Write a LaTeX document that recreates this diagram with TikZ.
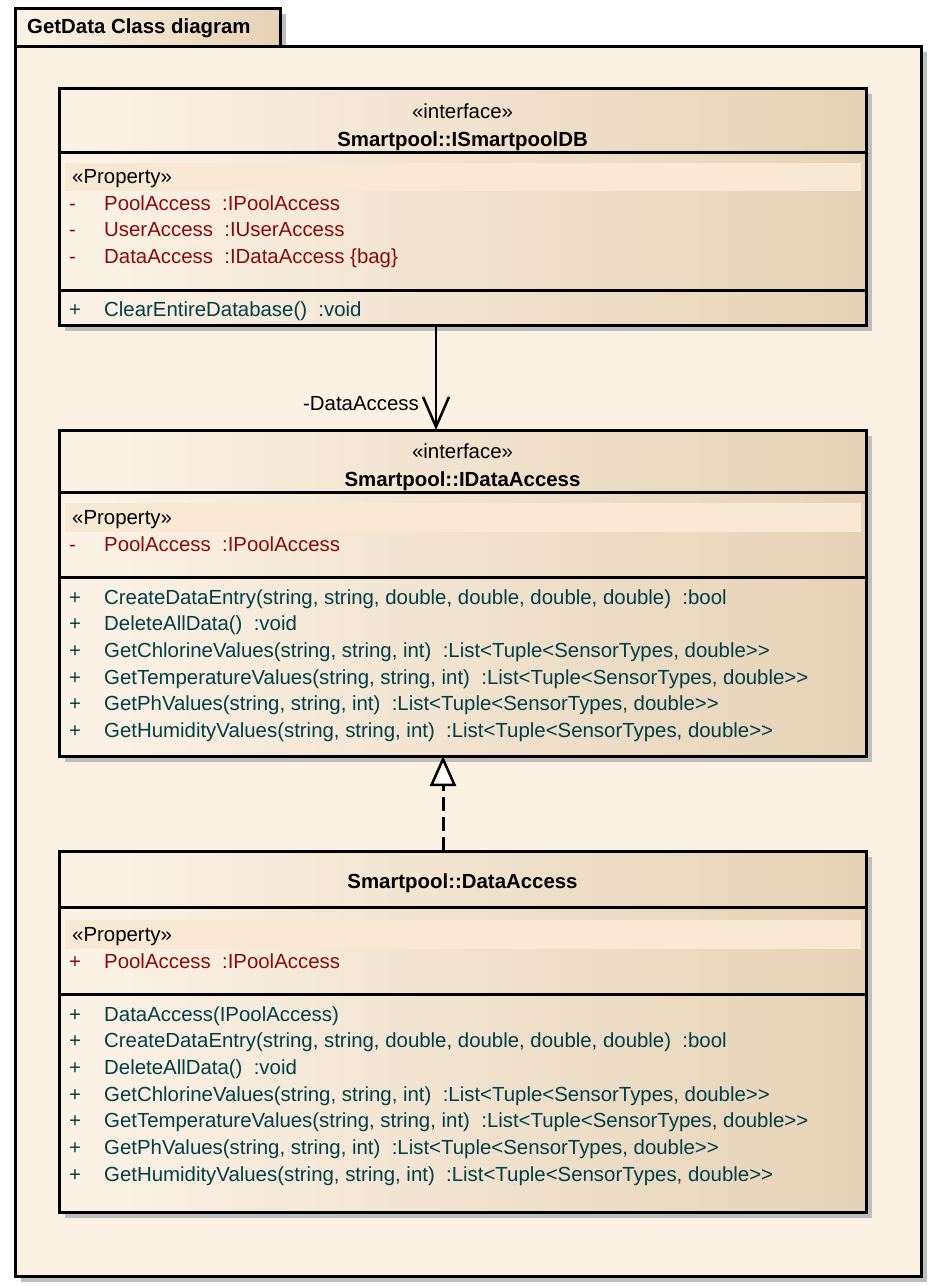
\documentclass[tikz,border=0pt]{standalone}
\usepackage{fontspec}
\setmainfont{Liberation Sans}[Ligatures=TeXOff]
\usetikzlibrary{arrows.meta,shadows}
\definecolor{framebg}{HTML}{FBF1E3}
\definecolor{boxleft}{HTML}{FCF3E7}
\definecolor{boxright}{HTML}{E6D2B6}
\definecolor{propband}{HTML}{F9E9D4}
\definecolor{attrred}{HTML}{8B0A0A}
\definecolor{opteal}{HTML}{003E48}
\definecolor{shadowgrey}{HTML}{BEBEBE}

\begin{document}
\begin{tikzpicture}[x=1pt,y=-1pt,font=\fontsize{20.4}{24}\selectfont]
    \tikzstyle{grey shadow}=[drop shadow={shadow xshift=6pt,shadow yshift=-6pt,fill=shadowgrey,opacity=1}]
    \tikzstyle{shade box}=[draw,line width=3pt,inner sep=0pt,outer sep=0pt,left color=boxleft,right color=boxright,grey shadow,anchor=north west]
    \tikzstyle{frame box}=[draw,line width=3pt,inner sep=0pt,outer sep=0pt,fill=framebg,grey shadow,anchor=north west]
    \tikzstyle{sep}=[line width=3pt]
    \tikzstyle{band}=[fill=propband]
    \tikzstyle{txt}=[inner sep=0pt,anchor=base west]
    \tikzstyle{centred}=[inner sep=0pt,anchor=base]
    \tikzstyle{attr}=[txt,text=attrred]
    \tikzstyle{oper}=[txt,text=opteal]
    \useasboundingbox[fill=white] (0,0) rectangle (931,1286);
    % package frame
    \node[shade box,minimum width=265pt,minimum height=38pt] (tab) at (15,8) {};
    \node[frame box,minimum width=906pt,minimum height=1230pt] (frame) at (15,46) {};
    \node[txt,font=\fontsize{20.4}{24}\selectfont\bfseries] (title) at (27,33.3) {GetData Class diagram};
    % Smartpool::ISmartpoolDB
    \node[shade box,minimum width=807pt,minimum height=237pt] (isdb) at (59,88) {};
    \draw[sep] (isdb.west |- 0,152) -- (isdb.east |- 0,152);
    \draw[sep] (isdb.west |- 0,290) -- (isdb.east |- 0,290);
    \fill[band] (65,163) rectangle (861,191);
    \node[centred] (isdb-st) at (isdb.north |- 0,118) {«interface»};
    \node[centred,font=\fontsize{20.4}{24}\selectfont\bfseries] (isdb-name) at (isdb.north |- 0,146.5) {Smartpool::ISmartpoolDB};
    \node[txt] (isdb-prop) at (72,183) {«Property»};
    \foreach \n/\t [count=\i from 0] in {PoolAccess/IPoolAccess,UserAccess/IUserAccess,DataAccess/{IDataAccess \{bag\}}} {
      \node[attr] (isdb-v\i) at (69,210+26.65*\i) {-};
      \node[attr] (isdb-a\i) at (104,210+26.65*\i) {\n~~:\t};
    }
    \node[oper] (isdb-s0) at (69,316.7) {+};
    \node[oper] (isdb-o0) at (104,316.7) {ClearEntireDatabase()~~:void};
    % Smartpool::IDataAccess
    \node[shade box,minimum width=807pt,minimum height=326pt] (ida) at (59,430) {};
    \draw[sep] (ida.west |- 0,492) -- (ida.east |- 0,492);
    \draw[sep] (ida.west |- 0,577) -- (ida.east |- 0,577);
    \fill[band] (65,503) rectangle (861,532);
    \node[centred] (ida-st) at (ida.north |- 0,458) {«interface»};
    \node[centred,font=\fontsize{20.4}{24}\selectfont\bfseries] (ida-name) at (ida.north |- 0,486.5) {Smartpool::IDataAccess};
    \node[txt] (ida-prop) at (72,524) {«Property»};
    \node[attr] (ida-v0) at (69,551) {-};
    \node[attr] (ida-a0) at (104,551) {PoolAccess~~:IPoolAccess};
    \foreach \t [count=\i from 0] in {{CreateDataEntry(string, string, double, double, double, double)~~:bool},{DeleteAllData()~~:void},{GetChlorineValues(string, string, int)~~:List<Tuple<SensorTypes, double>>},{GetTemperatureValues(string, string, int)~~:List<Tuple<SensorTypes, double>>},{GetPhValues(string, string, int)~~:List<Tuple<SensorTypes, double>>},{GetHumidityValues(string, string, int)~~:List<Tuple<SensorTypes, double>>}} {
      \node[oper] (ida-s\i) at (69,604+26.7*\i) {+};
      \node[oper] (ida-o\i) at (104,604+26.7*\i) {\t};
    }
    % Smartpool::DataAccess
    \node[shade box,minimum width=807pt,minimum height=361pt] (da) at (59,851) {};
    \draw[sep] (da.west |- 0,907) -- (da.east |- 0,907);
    \draw[sep] (da.west |- 0,994) -- (da.east |- 0,994);
    \fill[band] (65,920) rectangle (861,949);
    \node[centred,font=\fontsize{20.4}{24}\selectfont\bfseries] (da-name) at (da.north |- 0,888.5) {Smartpool::DataAccess};
    \node[txt] (da-prop) at (72,941) {«Property»};
    \node[attr] (da-v0) at (69,968.3) {+};
    \node[attr] (da-a0) at (104,968.3) {PoolAccess~~:IPoolAccess};
    \foreach \t [count=\i from 0] in {{DataAccess(IPoolAccess)},{CreateDataEntry(string, string, double, double, double, double)~~:bool},{DeleteAllData()~~:void},{GetChlorineValues(string, string, int)~~:List<Tuple<SensorTypes, double>>},{GetTemperatureValues(string, string, int)~~:List<Tuple<SensorTypes, double>>},{GetPhValues(string, string, int)~~:List<Tuple<SensorTypes, double>>},{GetHumidityValues(string, string, int)~~:List<Tuple<SensorTypes, double>>}} {
      \node[oper] (da-s\i) at (69,1021+26.7*\i) {+};
      \node[oper] (da-o\i) at (104,1021+26.7*\i) {\t};
    }
    % connectors
    \draw[line width=2.5pt,-{Straight Barb[length=30pt,width=26pt]}] ([xshift=-26.5pt]isdb.south) -- ([xshift=-26.5pt]ida.north);
    \node[txt,anchor=base east] (role) at (419,410) {-DataAccess};
    \draw[line width=3pt,dash pattern=on 14pt off 6pt,-{Triangle[length=30pt,width=26pt,fill=white,line width=2.5pt]}] ([xshift=-19.5pt]da.north) -- ([xshift=-19.5pt]ida.south);
\end{tikzpicture}
\end{document}
